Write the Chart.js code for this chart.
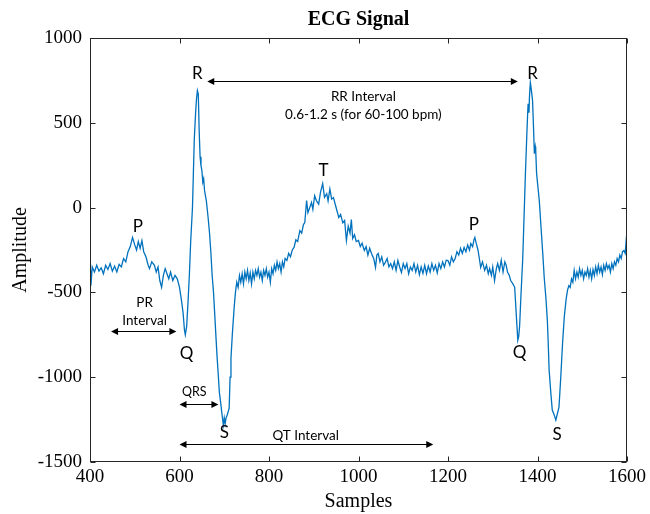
<!DOCTYPE html>
<html>
<head>
<meta charset="utf-8">
<script src="https://cdn.jsdelivr.net/npm/chart.js@4/dist/chart.umd.min.js"></script>
<style>
html,body{margin:0;padding:0;background:#fff;}
canvas{display:block;}
</style>
</head>
<body>
<canvas id="c" width="650" height="514"></canvas>
<script>
// ---- data ----
const samples = [400,402,405,410,415,420,425,430,435,440,445,450,455,460,465,470,475,480,485,490,495,500,504,508,512,516,520,525,530,533,538,544,548,552,556,560,564,568,572,576,580,585,590,595,600,604,608,611,613,616,619,622,625,629,631,633,636,638,640,642,644,646,648,650,652,654,656,660,664,667,670,673,676,678,681,684,687,689,692,695,698,700,702,704,707,711,713,715,718,722,725,728,731,734,737,740,743,746,749,752,755,758,761,764,767,770,773,776,779,782,785,788,791,794,797,800,803,806,809,812,815,818,821,824,827,830,833,836,840,844,848,852,856,860,864,869,873,877,880,884,887,891,895,898,902,906,911,915,920,924,929,932,936,940,944,948,952,956,960,965,969,973,977,981,984,987,991,995,1000,1004,1008,1013,1017,1021,1025,1029,1034,1038,1041,1044,1048,1052,1056,1060,1064,1068,1072,1076,1080,1084,1088,1092,1096,1100,1104,1108,1112,1116,1120,1124,1128,1132,1136,1140,1144,1148,1152,1156,1160,1164,1168,1172,1176,1180,1184,1188,1192,1196,1200,1204,1208,1212,1216,1220,1224,1228,1232,1236,1240,1244,1248,1251,1255,1258,1260,1263,1267,1270,1273,1277,1282,1286,1290,1293,1297,1300,1304,1308,1311,1315,1319,1323,1327,1330,1333,1337,1340,1345,1349,1351,1353,1356,1358,1360,1363,1367,1370,1373,1376,1378,1379,1381,1382,1384,1386,1389,1391,1393,1395,1396,1398,1401,1404,1408,1412,1415,1419,1422,1424,1426,1430,1433,1437,1441,1444,1448,1452,1456,1460,1464,1467,1470,1473,1476,1479,1482,1485,1488,1491,1494,1497,1500,1503,1506,1509,1512,1515,1518,1521,1524,1527,1530,1533,1536,1539,1542,1545,1548,1551,1554,1557,1560,1563,1566,1569,1572,1575,1578,1581,1584,1587,1590,1593,1596,1598,1600];
const amplitude = [-370,-460,-350,-380,-340,-375,-355,-390,-340,-365,-330,-375,-345,-380,-335,-350,-300,-320,-260,-230,-176,-220,-250,-200,-240,-195,-260,-290,-340,-360,-320,-340,-380,-350,-430,-470,-400,-360,-390,-420,-380,-430,-400,-420,-470,-540,-620,-720,-750,-700,-560,-400,-200,0,200,400,560,640,690,670,450,300,247,220,150,170,100,40,-60,-147,-260,-400,-500,-594,-740,-880,-1000,-1088,-1150,-1220,-1282,-1240,-1275,-1240,-1220,-1182,-1000,-888,-750,-594,-500,-440,-470,-400,-440,-390,-450,-380,-420,-370,-430,-385,-450,-380,-420,-370,-400,-360,-410,-380,-430,-370,-400,-360,-410,-380,-440,-360,-390,-340,-370,-320,-360,-330,-380,-320,-350,-300,-312,-270,-290,-250,-235,-190,-200,-135,-150,-100,-88,41,-30,0,30,-10,70,40,20,90,141,60,82,40,110,50,59,20,-20,-59,-40,-90,-76,-194,-110,-150,-70,-182,-160,-200,-194,-230,-210,-253,-230,-280,-240,-270,-300,-353,-280,-270,-320,-290,-340,-323,-300,-350,-330,-360,-320,-370,-312,-350,-382,-330,-360,-330,-390,-350,-370,-330,-380,-341,-395,-350,-388,-340,-390,-345,-380,-330,-370,-340,-385,-330,-360,-320,-350,-310,-312,-340,-290,-320,-300,-260,-280,-240,-270,-235,-260,-220,-250,-212,-230,-190,-176,-210,-250,-300,-353,-320,-370,-340,-390,-360,-400,-350,-430,-360,-330,-370,-310,-380,-320,-340,-380,-400,-430,-450,-470,-560,-650,-782,-760,-700,-520,-300,-50,200,420,553,612,560,650,737,700,629,480,318,360,340,200,120,41,-120,-280,-412,-540,-665,-800,-959,-1100,-1194,-1220,-1253,-1220,-1176,-1000,-800,-640,-540,-488,-460,-470,-420,-440,-370,-420,-380,-410,-360,-400,-370,-420,-380,-400,-360,-410,-370,-420,-365,-400,-350,-390,-340,-380,-350,-395,-340,-370,-330,-360,-340,-380,-330,-360,-320,-340,-300,-320,-280,-300,-260,-253,-270,-200,-235];
const xTicks = [400,600,800,1000,1200,1400,1600];
const yTicks = [-1500,-1000,-500,0,500,1000];
const chartTitle = 'ECG Signal';

// annotation texts, placed in data coordinates
const labels = [
  {t:'R', x:640, y:788, s:17},
  {t:'R', x:1389, y:788, s:17},
  {t:'T', x:922, y:218, s:17},
  {t:'P', x:507, y:-112, s:17},
  {t:'P', x:1258, y:-100, s:17},
  {t:'Q', x:616, y:-859, s:17},
  {t:'Q', x:1360, y:-853, s:17},
  {t:'S', x:700, y:-1324, s:17},
  {t:'S', x:1444, y:-1335, s:17},
  {t:'RR Interval', x:1011, y:653, s:13.5},
  {t:'0.6-1.2 s (for 60-100 bpm)', x:1011, y:547, s:13.5},
  {t:'PR', x:522, y:-559, s:13.5},
  {t:'Interval', x:522, y:-665, s:13.5},
  {t:'QRS', x:633, y:-1088, s:12.5},
  {t:'QT Interval', x:882, y:-1347, s:13.5}
];
const arrows = [
  {x1:662, x2:1356, y:747},
  {x1:447, x2:593, y:-729},
  {x1:600, x2:687, y:-1159},
  {x1:600, x2:1167, y:-1394}
];

const serif = '"Liberation Serif", "Times New Roman", serif';

const boxPlugin = {
  id:'box',
  afterDatasetsDraw(chart){
    const ctx = chart.ctx, a = chart.chartArea;
    const xs = chart.scales.x, ys = chart.scales.y;
    ctx.save();
    // title centred over the plot area
    ctx.fillStyle = '#000';
    ctx.textAlign = 'center';
    ctx.textBaseline = 'middle';
    ctx.font = 'bold 20px ' + serif;
    ctx.fillText(chartTitle, (a.left + a.right)/2, 20);
    // annotations
    labels.forEach(l=>{
      ctx.font = l.s + 'px Lato, "Open Sans", sans-serif';
      ctx.fillText(l.t, xs.getPixelForValue(l.x), ys.getPixelForValue(l.y));
    });
    ctx.strokeStyle = '#000';
    ctx.lineWidth = 1.2;
    arrows.forEach(ar=>{
      const x1 = xs.getPixelForValue(ar.x1), x2 = xs.getPixelForValue(ar.x2), y = Math.round(ys.getPixelForValue(ar.y))+0.5;
      ctx.beginPath(); ctx.moveTo(x1+3,y); ctx.lineTo(x2-3,y); ctx.stroke();
      ctx.beginPath(); ctx.moveTo(x1,y); ctx.lineTo(x1+7,y-3.5); ctx.lineTo(x1+7,y+3.5); ctx.closePath(); ctx.fill();
      ctx.beginPath(); ctx.moveTo(x2,y); ctx.lineTo(x2-7,y-3.5); ctx.lineTo(x2-7,y+3.5); ctx.closePath(); ctx.fill();
    });
    // box and inward ticks
    ctx.strokeStyle = '#262626';
    ctx.lineWidth = 1;
    const L = Math.round(a.left)+0.5, R = Math.round(a.right)-0.5, T = Math.round(a.top)+0.5, B = Math.round(a.bottom)-0.5;
    ctx.strokeRect(L, T, R-L, B-T);
    ctx.beginPath();
    xTicks.forEach(v=>{
      const p = Math.round(xs.getPixelForValue(v))+0.5;
      ctx.moveTo(p,B); ctx.lineTo(p,B-5);
      ctx.moveTo(p,T); ctx.lineTo(p,T+5);
    });
    yTicks.forEach(v=>{
      const p = Math.round(ys.getPixelForValue(v))+0.5;
      ctx.moveTo(L,p); ctx.lineTo(L+5,p);
      ctx.moveTo(R,p); ctx.lineTo(R-5,p);
    });
    ctx.stroke();
    ctx.restore();
  }
};

new Chart(document.getElementById('c'), {
  type:'line',
  data:{
    datasets:[{
      data: samples.map((x,i)=>({x:x, y:amplitude[i]})),
      borderColor:'#0072BD',
      borderWidth:1.3,
      pointRadius:0,
      tension:0,
      fill:false
    }]
  },
  options:{
    responsive:false,
    animation:false,
    devicePixelRatio:1,
    parsing:false,
    layout:{padding:{left:0,right:22,top:38,bottom:0}},
    plugins:{
      legend:{display:false},
      tooltip:{enabled:false},
      title:{display:false}
    },
    scales:{
      x:{type:'linear', min:400, max:1600,
        afterBuildTicks(s){ s.ticks = xTicks.map(v=>({value:v})); },
        afterFit(s){ s.height = 52; },
        grid:{display:false, drawTicks:false, tickLength:0},
        border:{display:false},
        ticks:{color:'#000', font:{family:serif, size:19}, padding:4, maxRotation:0, autoSkip:false,
          callback:(v)=>String(v)},
        title:{display:true, text:'Samples', color:'#000', font:{family:serif, size:20}, padding:{top:0,bottom:0}}
      },
      y:{type:'linear', min:-1500, max:1000,
        afterBuildTicks(s){ s.ticks = yTicks.map(v=>({value:v})); },
        afterFit(s){ s.width = 90; },
        grid:{display:false, drawTicks:false, tickLength:0},
        border:{display:false},
        ticks:{color:'#000', font:{family:serif, size:19}, padding:8, autoSkip:false,
          callback:(v)=>String(v)},
        title:{display:true, text:'Amplitude', color:'#000', font:{family:serif, size:20}, padding:{top:9,bottom:0}}
      }
    }
  },
  plugins:[boxPlugin]
});
</script>
</body>
</html>
